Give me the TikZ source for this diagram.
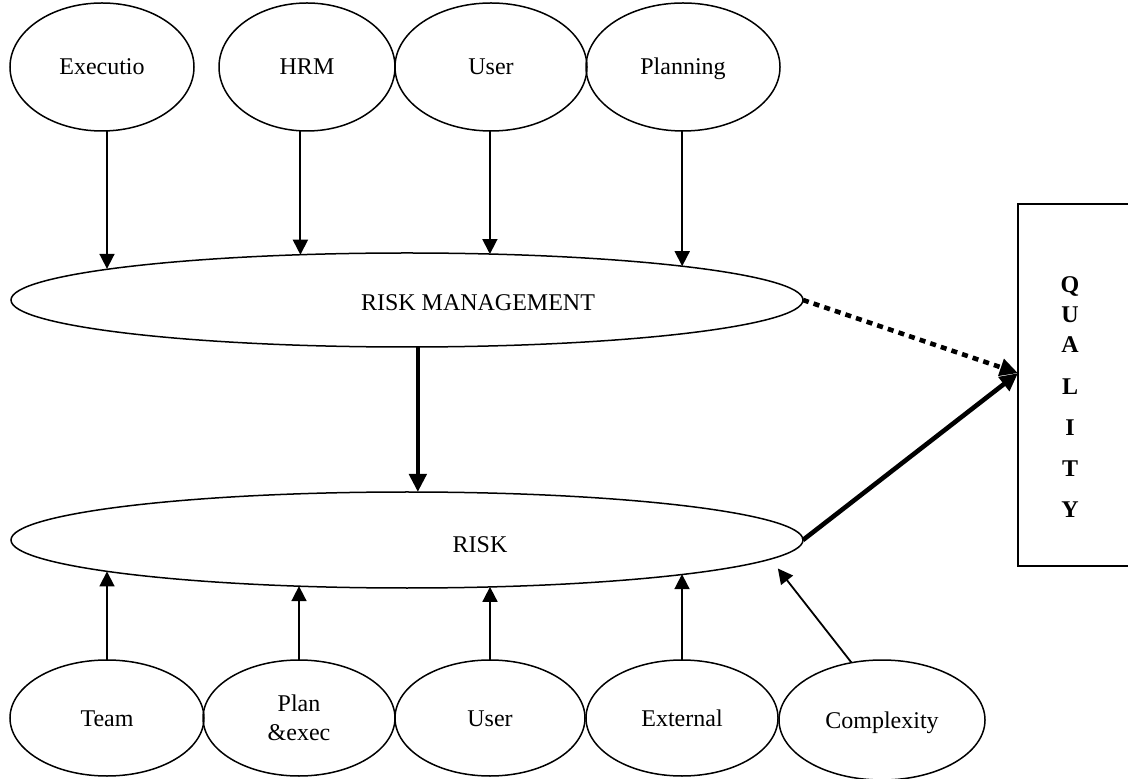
\documentclass[tikz,border=0pt]{standalone}
\usepackage{fontspec}
\setmainfont{Liberation Serif}
\usetikzlibrary{arrows.meta,shapes.geometric,calc}

\begin{document}
\begin{tikzpicture}[x=0.5pt,y=-0.5pt]
\tikzstyle{every node}+=[inner sep=0pt, outer sep=0pt, font=\fontsize{12}{14.5}\selectfont]
\tikzstyle{oval}=[draw=black, ellipse, line width=0.75pt, text height=9.5pt, text depth=1.5pt]
\tikzstyle{arr}=[black, line width=0.9pt, -{Triangle[length=7.5pt,width=7.5pt]}]
\tikzstyle{bigarr}=[black, line width=2.3pt, -{Triangle[length=9pt,width=8.5pt]}]
\useasboundingbox (0,0) rectangle (1128,779);
\clip (0,0) rectangle (1128,779);
% upper ovals
\node [oval, minimum width=92pt, minimum height=64pt] (exe) at (102,67) {Executio};
\node [oval, minimum width=88pt, minimum height=64pt] (hrm) at (307,67) {HRM};
\node [oval, minimum width=96pt, minimum height=64pt] (usr) at (491,67) {User};
\node [oval, minimum width=97pt, minimum height=64pt] (pln) at (683,67) {Planning};
% the two long ovals
\node [oval, minimum width=396pt, minimum height=47pt] (riskmgmt) at (407,300) {};
\node (rmtext) at ($(riskmgmt)+(71,3)$) {RISK MANAGEMENT};
\node [oval, minimum width=396pt, minimum height=48pt] (risk) at (407,540) {};
\node (risktext) at ($(risk)+(73,5)$) {RISK};
% lower ovals
\node [oval, minimum width=97pt, minimum height=58pt] (team) at (107,718) {Team};
\node [oval, minimum width=96pt, minimum height=58pt, align=center, text height=, text depth=] (planex) at (299,718) {Plan\\\&exec};
\node [oval, minimum width=95pt, minimum height=58pt] (user2) at (490,718) {User};
\node [oval, minimum width=96pt, minimum height=58pt] (ext) at (682,718) {External};
\node [oval, minimum width=103pt, minimum height=60pt] (cplx) at (882,720) {Complexity};
% quality box
\node [draw=black, line width=1pt, minimum width=61pt, minimum height=181pt] (quality) at (1079,385) {};
\node [font=\fontsize{12}{15}\selectfont\bfseries, align=center] (qtext) at ($(quality)+(-9,12)$)
  {Q\\U\\A\\[6pt]L\\[5.5pt]I\\[5.5pt]T\\[5.5pt]Y};
% arrows into risk management
\draw [arr] (team.north |- exe.south) -- (team.north |- riskmgmt.174);
\draw [arr] (riskmgmt.157 |- hrm.south) -- (riskmgmt.157);
\draw [arr] (riskmgmt.29 |- usr.south) -- (riskmgmt.29);
\draw [arr] (riskmgmt.7 |- pln.south) -- (riskmgmt.7);
% risk management to risk
\draw [bigarr] (riskmgmt.283) -- (riskmgmt.283 |- risk.north);
% arrows into risk
\draw [arr] (team.north) -- (team.north |- risk.186);
\draw [arr] (planex.north) -- (planex.north |- risk.203);
\draw [arr] (user2.north) -- (user2.north |- risk.331);
\draw [arr] (ext.north) -- (ext.north |- risk.353);
\draw [arr, shorten >=6pt] (cplx.118) -- (risk.357);
% to quality
\draw [black, line width=2.3pt, dash pattern=on 3pt off 2.6pt, -{Triangle[length=9pt,width=8.5pt]}] (riskmgmt.east) -- (quality.169);
\draw [bigarr] (risk.east) -- (quality.169);
\end{tikzpicture}
\end{document}
